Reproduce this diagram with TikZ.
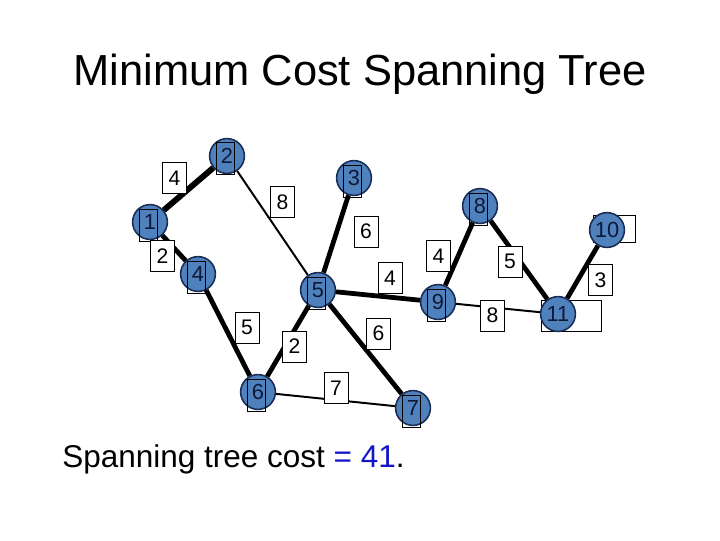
\documentclass[tikz,border=0pt]{standalone}
\usepackage{fontspec}
\setmainfont{Liberation Sans}
\definecolor{nodefill}{RGB}{79,129,189}
\definecolor{nodeline}{RGB}{25,45,85}
\definecolor{nodetxt}{RGB}{15,25,55}
\definecolor{txtblue}{RGB}{20,20,200}
\begin{document}
\begin{tikzpicture}[x=0.025cm,y=-0.025cm,
  vtx/.style={circle,draw=nodeline,fill=nodefill,line width=1.1pt,minimum size=0.87cm,inner sep=0pt,text=nodetxt,font=\fontsize{15.5}{18}\selectfont},
  lbox/.style={draw=black,line width=0.6pt,minimum width=0.45cm,minimum height=0.8cm,inner sep=0pt},
  wlab/.style={draw=black,fill=white,line width=0.6pt,minimum width=0.6cm,minimum height=0.775cm,inner sep=0pt,font=\fontsize{15}{18}\selectfont},
  tree/.style={line width=3.4pt},
  tree2/.style={line width=4.2pt},
  other/.style={line width=1.4pt}]
\useasboundingbox[fill=white] (0,0) rectangle (720,540);
% title
\node[anchor=base,inner sep=0pt,font=\fontsize{30.9}{36}\selectfont] (title) at (360,85) {Minimum Cost Spanning Tree};
% wide label boxes under nodes 10 and 11
\node[draw=black,line width=0.6pt,minimum width=1.05cm,minimum height=0.675cm,inner sep=0pt] (b10) at (614,228.5) {};
\node[draw=black,line width=0.6pt,minimum width=1.5cm,minimum height=0.775cm,inner sep=0pt] (b11) at (571,315.5) {};
% vertices
\node[vtx] (n1) at (150,222) {1};
\node[vtx] (n2) at (227,156) {2};
\node[vtx] (n3) at (354,178) {3};
\node[vtx] (n4) at (198,274) {4};
\node[vtx] (n5) at (318,290) {5};
\node[vtx] (n6) at (258,392) {6};
\node[vtx] (n7) at (413,408) {7};
\node[vtx] (n8) at (480,206) {8};
\node[vtx] (n9) at (438,302) {9};
\node[vtx] (n10) at (607,230) {10};
\node[vtx] (n11) at (558,314) {11};
% label boxes over single-digit nodes
\foreach \n/\x/\y in {1/148/225, 2/225/158, 3/352/181, 4/196/277, 5/316/293, 6/256/395, 7/411/411, 8/478/209, 9/436/305}
  \node[lbox] (b\n) at (\x,\y) {};
% edges
\draw[tree2] (n1) -- (n2);
\draw[tree] (n1) -- (n4);
\draw[other] (n2) -- (n5);
\draw[tree] (n3) -- (n5);
\draw[tree] (n5) -- (n9);
\draw[tree] (n8) -- (n9);
\draw[tree] (n8) -- (n11);
\draw[tree] (n10) -- (n11);
\draw[other] (n9) -- (n11);
\draw[tree] (n4) -- (n6);
\draw[tree] (n5) -- (n6);
\draw[tree] (n5) -- (n7);
\draw[other] (n6) -- (n7);
% edge weights
\node[wlab] (w12) at (174.5,178) {4};
\node[wlab] (w14) at (162.5,256) {2};
\node[wlab] (w25) at (282.5,202) {8};
\node[wlab] (w35) at (366,231.5) {6};
\node[wlab] (w59) at (390,278) {4};
\node[wlab] (w89) at (438.5,256) {4};
\node[wlab] (w811) at (510,261.5) {5};
\node[wlab] (w1011) at (600.5,280) {3};
\node[wlab] (w911) at (492.5,315.5) {8};
\node[wlab] (w46) at (247,327.5) {5};
\node[wlab] (w56) at (294.5,346.5) {2};
\node[wlab] (w57) at (378.5,333.5) {6};
\node[wlab] (w67) at (336,388) {7};
% cost
\node[anchor=base west,inner sep=0pt,font=\fontsize{22.4}{26}\selectfont] (cost) at (62,467) {Spanning tree cost \textcolor{txtblue}{= 41}.};
\end{tikzpicture}
\end{document}
